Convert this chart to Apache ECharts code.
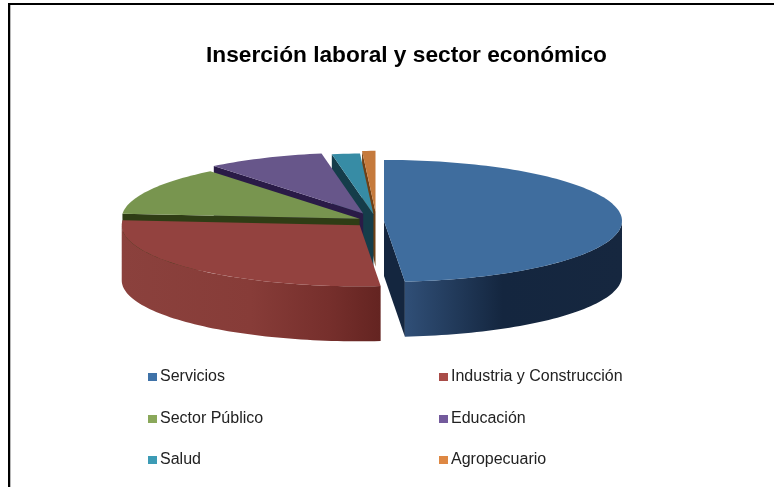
<!DOCTYPE html>
<html>
<head>
<meta charset="utf-8">
<style>html,body{margin:0;padding:0;background:#fff}#c{width:774px;height:487px}</style>
<script src="https://cdn.jsdelivr.net/npm/echarts@6/dist/echarts.min.js"></script>
</head>
<body>
<div id="c"></div>
<script>
const categories = ['Servicios', 'Industria y Construcción', 'Sector Público', 'Educación', 'Salud', 'Agropecuario'];
const values = [48.6, 27.7, 12.9, 8.0, 1.9, 0.9];
const titleText = 'Inserción laboral y sector económico';

const explode = [0.0315, 0.1, 0.08, 0.135, 0.11, 0.15];
const legendColors = ['#3f72a8', '#a94c48', '#8aa85a', '#735a9c', '#3c9bb5', '#de8843'];
const topColors = ['#3f6d9e', '#93423f', '#78954f', '#67568a', '#378ca5', '#c57a3c'];
const faceColors = ['#14263f', '#652522', '#2f3d15', '#2a1b47', '#153d4a', '#6f4015'];
const wallStops = [
  [[0, '#304f77'], [0.45, '#14263f'], [1, '#16273f']],
  [[0, '#8b413d'], [0.5, '#873c38'], [0.8, '#762f2c'], [1, '#642421']],
  [[0, '#2f3d15'], [1, '#2f3d15']],
  [[0, '#2a1b47'], [1, '#2a1b47']],
  [[0, '#153d4a'], [1, '#153d4a']],
  [[0, '#6f4015'], [1, '#6f4015']]
];
const legendPos = [[148, 369], [439, 369], [148, 411], [439, 411], [148, 452], [439, 452]];

const CX = 376.5, CY = 221, RX = 238, RY = 61, DEPTH = 55;
const total = values.reduce((a, b) => a + b, 0);
const starts = [];
values.reduce((acc, v, i) => { starts[i] = acc; return acc + v; }, 0);

function pt(cx, cy, deg, dy) {
  const r = deg * Math.PI / 180;
  return [cx + RX * Math.sin(r), cy - RY * Math.cos(r) + (dy || 0)];
}
function arc(cx, cy, a, b, dy) {
  const out = [];
  const n = Math.max(2, Math.ceil((b - a) / 1.5));
  for (let k = 0; k <= n; k++) out.push(pt(cx, cy, a + (b - a) * k / n, dy));
  return out;
}
function grad(stops) {
  return new echarts.graphic.LinearGradient(0, 0, 1, 0, stops.map(s => ({ offset: s[0], color: s[1] })));
}
function renderWedge(i, api) {
  const share = api.value(0) / total * 360;
  const a = starts[i] / total * 360, b = a + share;
  const mid = (a + b) / 2 * Math.PI / 180;
  const cx = CX + RX * explode[i] * Math.sin(mid);
  const cy = CY - RY * explode[i] * Math.cos(mid);
  const children = [];
  const poly = (points, fill) => children.push({ type: 'polygon', shape: { points }, style: { fill }, z2: children.length, silent: true });
  const face = (deg) => {
    const p = pt(cx, cy, deg);
    poly([[cx, cy], p, [p[0], p[1] + DEPTH], [cx, cy + DEPTH]], faceColors[i]);
  };
  if (Math.sin(a * Math.PI / 180) < 0) face(a);
  if (Math.sin(b * Math.PI / 180) > 0) face(b);
  const wa = Math.max(a, 90), wb = Math.min(b, 270);
  if (wb > wa) {
    poly(arc(cx, cy, wa, wb).concat(arc(cx, cy, wa, wb, DEPTH).reverse()), grad(wallStops[i]));
  }
  poly([[cx, cy]].concat(arc(cx, cy, a, b)), topColors[i]);
  return { type: 'group', children };
}
const depthOrder = values.map((v, i) => {
  const m = (starts[i] + v / 2) / total * 2 * Math.PI;
  return { i, c: Math.cos(m) };
}).sort((p, q) => q.c - p.c).map(o => o.i);

const chart = echarts.init(document.getElementById('c'), null, { renderer: 'canvas' });
chart.setOption({
  animation: false,
  backgroundColor: '#ffffff',
  title: {
    text: titleText, left: 206, top: 44, padding: 0,
    textStyle: { fontFamily: 'Liberation Sans', fontWeight: 'bold', fontSize: 22.7, color: '#000' }
  },
  legend: categories.map((name, i) => ({
    data: [name], left: legendPos[i][0], top: legendPos[i][1], padding: 0,
    icon: 'rect', itemWidth: 9, itemHeight: 8, itemGap: 0, selectedMode: false,
    textStyle: { fontFamily: 'Liberation Sans', fontSize: 16, color: '#222', padding: [0, 0, 0, -2] }
  })),
  series: categories.map((name, i) => ({
    type: 'custom', name, coordinateSystem: 'none',
    z: 2 + depthOrder.indexOf(i),
    itemStyle: { color: legendColors[i] },
    data: [[values[i]]],
    renderItem: (params, api) => renderWedge(i, api)
  })),
  graphic: [
    { type: 'rect', shape: { x: 8, y: 3, width: 766, height: 2 }, style: { fill: '#000' }, silent: true },
    { type: 'rect', shape: { x: 8, y: 3, width: 2, height: 484 }, style: { fill: '#000' }, silent: true },
    { type: 'rect', shape: { x: 10, y: 5, width: 1, height: 482 }, style: { fill: '#b8b8b8' }, silent: true }
  ]
});
</script>
</body>
</html>
